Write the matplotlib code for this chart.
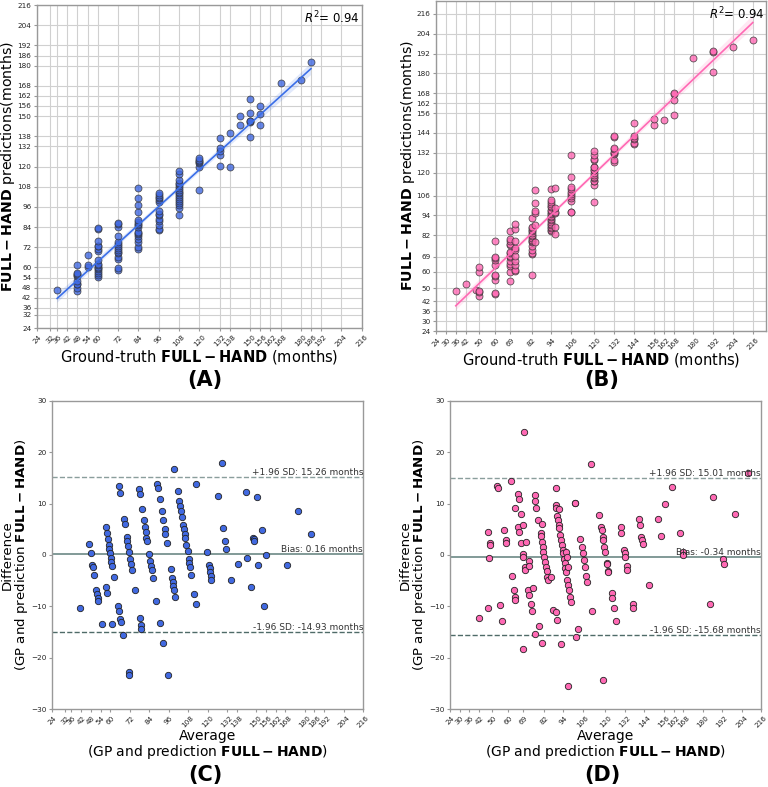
import numpy as np
import matplotlib
matplotlib.use("Agg")
import matplotlib.pyplot as plt
import seaborn as sns

# ground-truth ages (months) and the predicted ages at each of them, model A
truth_a = [36, 48, 54, 60, 72, 84, 96, 108, 120, 132, 138, 144, 150, 156, 168, 180, 186]
pred_a = [
    [46.4],
    [45.9, 47.7, 49.9, 50.4, 51.9, 54.8, 55.6, 56.3, 57.0, 61.4],
    [60.3, 61.4, 67.5],
    [54.6, 55.8, 56.8, 58.1, 58.9, 59.7, 60.5, 61.3, 62.1, 64.3, 70.0, 70.9,
     72.5, 73.0, 75.5, 82.7, 83.3],
    [58.6, 59.9, 65.0, 66.0, 68.5, 69.2, 70.2, 71.5, 72.8, 73.8, 75.0, 78.9,
     84.3, 85.7, 86.5],
    [71.2, 72.1, 75.1, 77.2, 78.6, 79.6, 80.6, 81.2, 83.8, 85.2, 86.1, 87.0,
     88.4, 92.9, 97.2, 101.1, 107.4],
    [82.1, 82.9, 85.1, 87.4, 89.1, 91.0, 92.0, 93.6, 98.7, 100.4, 101.2, 102.0,
     102.9, 104.2],
    [91.2, 95.6, 97.4, 98.5, 99.5, 100.6, 102.1, 103.0, 104.0, 104.6, 106.0,
     107.3, 108.7, 109.5, 110.4, 111.9, 115.6, 117.6],
    [106.2, 119.5, 122.0, 122.6, 123.4, 124.1, 124.9],
    [120.6, 126.8, 129.2, 130.9, 136.9],
    [120.0, 139.7],
    [144.6, 150.3],
    [137.7, 146.6, 146.8, 147.3, 151.9, 160.0],
    [144.7, 151.2, 156.0],
    [169.9],
    [171.5],
    [181.9],
]

# model B
truth_b = [36, 42, 48, 50, 60, 69, 72, 82, 84, 94, 96, 106, 120, 132, 144,
           156, 162, 168, 180, 192, 204, 216]
pred_b = [
    [48.3],
    [52.4],
    [48.6],
    [45.5, 47.6, 48.0, 59.7, 62.8],
    [46.5, 47.0, 55.1, 57.1, 57.7, 64.1, 66.8, 68.1, 68.8, 78.4],
    [54.5, 59.8, 63.6, 64.5, 66.6, 68.9, 69.3, 71.3, 71.9, 75.8, 76.8, 78.6,
     80.0, 84.3],
    [60.1, 61.1, 64.0, 66.2, 69.4, 73.2, 74.1, 78.5, 85.8, 89.1],
    [58.0, 70.4, 71.5, 72.8, 75.2, 77.8, 78.3, 79.4, 80.4, 81.4, 82.3, 83.3,
     84.3, 85.2, 86.2, 86.9, 92.7],
    [78.0, 88.2, 95.2, 96.7, 101.3, 109.5],
    [84.3, 84.9, 86.5, 87.2, 88.2, 88.8, 90.1, 91.1, 92.0, 93.0, 93.7, 94.7,
     95.6, 96.6, 97.4, 98.9, 99.8, 100.8, 102.1, 103.2, 109.9],
    [83.0, 87.1, 95.4, 96.3, 98.3, 110.5],
    [95.8, 95.8, 102.8, 104.4, 105.7, 106.9, 108.3, 110.1, 111.2, 117.0, 130.4],
    [102.3, 112.3, 114.6, 115.1, 116.4, 117.0, 118.4, 119.5, 121.6, 121.8,
     123.2, 123.4, 127.5, 128.4, 130.4, 132.8],
    [126.6, 127.7, 131.0, 131.7, 132.3, 134.1, 135.0, 141.5, 142.3],
    [137.0, 138.1, 140.4, 141.1, 141.9, 149.8],
    [148.9, 152.3],
    [152.0],
    [154.7, 163.8, 167.4, 168.0],
    [189.6],
    [180.8, 192.7, 193.8],
    [196.0],
    [200.1],
]

ticks_a = [24, 32, 36, 42, 48, 54, 60, 72, 84, 96, 108, 120, 132, 138, 150,
           156, 162, 168, 180, 186, 192, 204, 216]
ticks_b = [24, 30, 36, 42, 50, 60, 69, 82, 94, 106, 120, 132, 144, 156, 162,
           168, 180, 192, 204, 216]

# upper limit, bias, lower limit (months)
limits_a = [15.26, 0.16, -14.93]
limits_b = [15.01, -0.34, -15.68]
r2_a = 0.94
r2_b = 0.94

NAME = r"$\mathbf{FULL-HAND}$"


def flatten(truth, preds):
    x = np.concatenate([[t] * len(p) for t, p in zip(truth, preds)]).astype(float)
    y = np.concatenate(preds).astype(float)
    return x, y


def style_axes(ax):
    for s in ax.spines.values():
        s.set_color("#999999")
        s.set_linewidth(1.0)
    ax.tick_params(colors="#999999", labelcolor="#222222", labelsize=5.2,
                   length=2.5, width=0.8, pad=1.5)


def scatter_panel(ax, truth, preds, ticks, color, line_color, r2, hi):
    x, y = flatten(truth, preds)
    ax.scatter(x, y, s=25, color=color, alpha=0.8, edgecolors="#333333",
               linewidths=0.6, zorder=3)
    sns.regplot(x=x, y=y, ax=ax, scatter=False, color=line_color, seed=0,
                line_kws={"lw": 1.2, "zorder": 4})
    ax.set_xlim(24, hi)
    ax.set_ylim(24, hi)
    ax.set_xticks(ticks)
    ax.set_yticks(ticks)
    ax.tick_params(axis="x", labelrotation=45)
    ax.grid(True, color="#d0d0d0", linewidth=0.8)
    ax.set_axisbelow(True)
    style_axes(ax)
    ax.set_xlabel("Ground-truth " + NAME + " (months)", fontsize=10.5,
                  labelpad=0)
    ax.set_ylabel(NAME + " predictions(months)", fontsize=10.2, labelpad=0)
    ax.text(0.995, 0.985, r"$R^2$= %.2f" % r2, transform=ax.transAxes,
            ha="right", va="top", fontsize=8.5)


def bland_altman(ax, truth, preds, ticks, color, limits):
    x, y = flatten(truth, preds)
    avg = (x + y) / 2
    diff = x - y
    ax.scatter(avg, diff, s=21, color=color, edgecolors="#222222",
               linewidths=0.6, zorder=3)
    hi_sd, bias, lo_sd = limits
    ax.axhline(bias, color="#5f7f7a", lw=1.1, zorder=2)
    ax.axhline(hi_sd, color="#8a9e9c", lw=1.0, ls="--", zorder=2)
    ax.axhline(lo_sd, color="#4f6b68", lw=1.0, ls="--", zorder=2)
    ax.text(216, hi_sd, "+1.96 SD: %.2f months" % hi_sd, ha="right",
            va="bottom", fontsize=6.5, color="#333333")
    ax.text(216, bias, "Bias: %.2f months" % bias, ha="right",
            va="bottom", fontsize=6.5, color="#333333")
    ax.text(216, lo_sd, "-1.96 SD: %.2f months" % lo_sd, ha="right",
            va="bottom", fontsize=6.5, color="#333333")
    ax.set_xlim(24, 216)
    ax.set_ylim(-30, 30)
    ax.set_xticks(ticks)
    ax.set_yticks([-30, -20, -10, 0, 10, 20, 30])
    ax.tick_params(axis="x", labelrotation=45)
    style_axes(ax)
    ax.set_xlabel("Average\n(GP and prediction " + NAME + ")", fontsize=10,
                  labelpad=0, linespacing=1.0)
    ax.set_ylabel("Difference\n(GP and prediction " + NAME + ")", fontsize=9.6,
                  labelpad=0.5, linespacing=1.0)


def main():
    fig = plt.figure(figsize=(7.68, 7.87), dpi=100)
    ax_a = fig.add_axes([0.048, 0.5832, 0.423, 0.4104])
    ax_b = fig.add_axes([0.5677, 0.5794, 0.4297, 0.4196])
    ax_c = fig.add_axes([0.0677, 0.0991, 0.405, 0.3914])
    ax_d = fig.add_axes([0.5859, 0.0991, 0.405, 0.3914])

    scatter_panel(ax_a, truth_a, pred_a, ticks_a, "#4169e1", "#3a6ee8", r2_a, 216)
    scatter_panel(ax_b, truth_b, pred_b, ticks_b, "#ff69b4", "#ff69b4", r2_b, 224)
    bland_altman(ax_c, truth_a, pred_a, ticks_a, "#4169e1", limits_a)
    bland_altman(ax_d, truth_b, pred_b, ticks_b, "#ff69b4", limits_b)

    for x, y, s in [(0.267, 0.517, "(A)"), (0.783, 0.517, "(B)"),
                    (0.267, 0.015, "(C)"), (0.784, 0.015, "(D)")]:
        fig.text(x, y, s, ha="center", va="center", fontsize=15,
                 fontweight="bold")

    fig.savefig("out.png", dpi=100, facecolor="white")


if __name__ == "__main__":
    main()
